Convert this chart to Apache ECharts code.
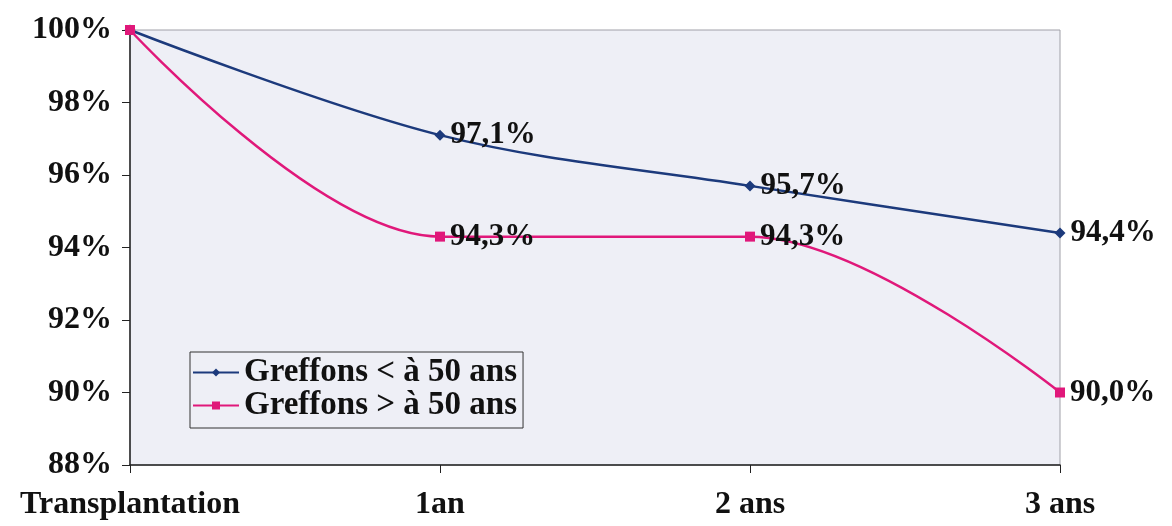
<!DOCTYPE html>
<html><head><meta charset="utf-8">
<script src="https://cdn.jsdelivr.net/npm/echarts@6/dist/echarts.min.js"></script>
<style>html,body{margin:0;padding:0;background:#fff}#c{width:1172px;height:526px}</style>
</head><body><div id="c"></div>
<script>
const categories = ['Transplantation', '1an', '2 ans', '3 ans'];
const seriesNames = ['Greffons < à 50 ans', 'Greffons > à 50 ans'];
const under50 = [100, 97.1, 95.7, 94.4];
const over50 = [100, 94.3, 94.3, 90.0];
const yTicks = [88, 90, 92, 94, 96, 98, 100];

const FONT = '"Liberation Serif", "DejaVu Serif", serif';
const chart = echarts.init(document.getElementById('c'));
function lbl(p) {
  if (p.dataIndex === 0) return '';
  return p.value.toFixed(1).replace('.', ',') + '%';
}
const labelStyle = { show: true, position: 'right', distance: 5, formatter: lbl, fontFamily: FONT, fontSize: 31, fontWeight: 'bold', color: '#111' };
chart.setOption({
  animation: false,
  backgroundColor: '#fff',
  grid: { left: 130, right: 112, top: 30, bottom: 61, show: true, backgroundColor: '#eeeff6', borderColor: '#a0a0a8', borderWidth: 1 },
  legend: {
    left: 190, top: 352, orient: 'vertical', itemGap: 0, itemWidth: 46, itemHeight: 10,
    padding: [4, 6, 6, 2],
    borderColor: '#333', borderWidth: 1, backgroundColor: '#eeeff6', borderRadius: 0,
    textStyle: { fontFamily: FONT, fontSize: 33, fontWeight: 'bold', color: '#111', lineHeight: 31 },
    data: seriesNames
  },
  xAxis: {
    type: 'category', data: categories, boundaryGap: false,
    axisLine: { lineStyle: { color: '#222', width: 1.5 } },
    axisTick: { length: 8, lineStyle: { color: '#222' } },
    axisLabel: { fontFamily: FONT, fontSize: 32, fontWeight: 'bold', color: '#111', margin: 24 },
    splitLine: { show: false }
  },
  yAxis: {
    type: 'value', min: yTicks[0], max: yTicks[yTicks.length - 1], interval: 2,
    axisLine: { show: true, lineStyle: { color: '#222', width: 1.5 } },
    axisTick: { show: true, length: 8, lineStyle: { color: '#222' } },
    axisLabel: { fontFamily: FONT, fontSize: 32, fontWeight: 'bold', color: '#111', margin: 18, formatter: '{value}%' },
    splitLine: { show: false }
  },
  series: [
    {
      name: seriesNames[0], type: 'line', data: under50, smooth: 0.35,
      symbol: 'diamond', symbolSize: 11, color: '#1c3a7c',
      lineStyle: { width: 2.5, color: '#1c3a7c' }, itemStyle: { color: '#1c3a7c' },
      label: labelStyle
    },
    {
      name: seriesNames[1], type: 'line', data: over50, smooth: 0.35,
      symbol: 'rect', symbolSize: 10, color: '#e0187a',
      lineStyle: { width: 2.5, color: '#e0187a' }, itemStyle: { color: '#e0187a' },
      label: labelStyle
    }
  ]
});
</script></body></html>
